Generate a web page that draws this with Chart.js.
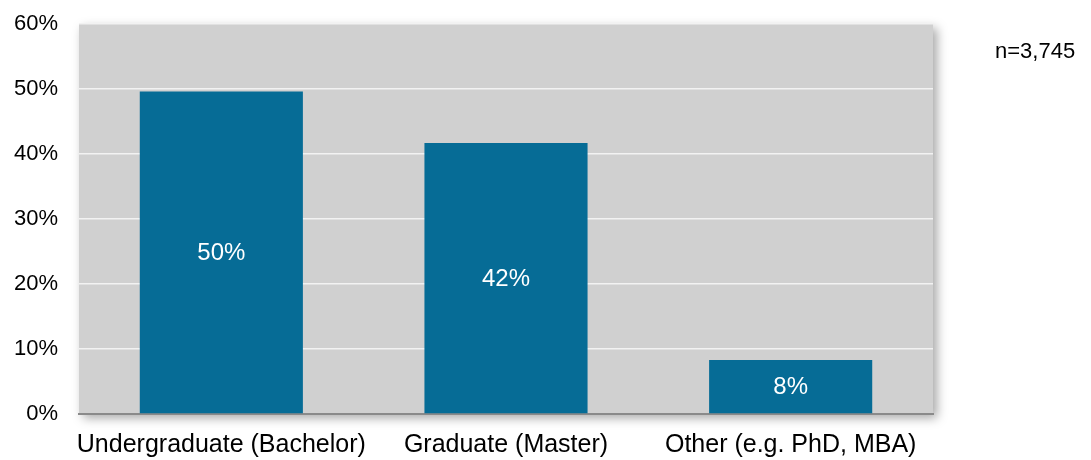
<!DOCTYPE html>
<html>
<head>
<meta charset="utf-8">
<script src="https://cdn.jsdelivr.net/npm/chart.js@4"></script>
<style>
  html, body { margin: 0; padding: 0; background: #ffffff; }
  #wrap { width: 1091px; height: 460px; position: relative; }
</style>
</head>
<body>
<div id="wrap"><canvas id="chart"></canvas></div>
<script>
// Degree level of respondents, share of total (n=3,745)
const categories = ["Undergraduate (Bachelor)", "Graduate (Master)", "Other (e.g. PhD, MBA)"];
const shares = [49.6, 41.7, 8.3];
const yTicks = [0, 10, 20, 30, 40, 50, 60];
const sampleNote = "n=3,745";

const FONT = "'Liberation Sans', Arial, sans-serif";

// grey panel with a soft drop shadow behind the plot
const panel = {
  id: "panel",
  beforeDraw(chart) {
    const { ctx, chartArea: a } = chart;
    ctx.save();
    ctx.shadowColor = "rgba(0,0,0,0.35)";
    ctx.shadowBlur = 10;
    ctx.shadowOffsetX = 4;
    ctx.shadowOffsetY = 4;
    ctx.fillStyle = "#d0d0d0";
    ctx.fillRect(a.left, a.top, a.right - a.left, a.bottom - a.top);
    ctx.restore();
  },
};

// percentage written inside each bar, plus the sample size note
const labels = {
  id: "labels",
  afterDatasetsDraw(chart) {
    const { ctx } = chart;
    const meta = chart.getDatasetMeta(0);
    ctx.save();
    ctx.font = "24px " + FONT;
    ctx.fillStyle = "#ffffff";
    ctx.textAlign = "center";
    ctx.textBaseline = "middle";
    meta.data.forEach((bar, i) => {
      const mid = (bar.y + bar.base) / 2;
      ctx.fillText(Math.round(shares[i]) + "%", bar.x, mid + 1);
    });
    ctx.font = "22px " + FONT;
    ctx.fillStyle = "#000000";
    ctx.textAlign = "left";
    ctx.textBaseline = "alphabetic";
    ctx.fillText(sampleNote, 995, 58);
    ctx.restore();
  },
};

new Chart(document.getElementById("chart"), {
  type: "bar",
  data: {
    labels: categories,
    datasets: [{
      data: shares,
      backgroundColor: "#066c96",
      borderWidth: 0,
      barPercentage: 1,
      categoryPercentage: 0.573,
    }],
  },
  options: {
    responsive: true,
    maintainAspectRatio: false,
    animation: false,
    layout: { padding: { top: 24, right: 158, left: 0, bottom: 0 } },
    plugins: { legend: { display: false }, tooltip: { enabled: false } },
    scales: {
      x: {
        grid: { display: false, drawTicks: false },
        border: { display: true, color: "#8a8a8a", width: 2 },
        ticks: {
          color: "#000000",
          font: { family: FONT, size: 25 },
          padding: 16,
          maxRotation: 0,
          autoSkip: false,
        },
        afterFit: (s) => { s.height = 46; },
      },
      y: {
        min: 0,
        max: 60,
        afterBuildTicks: (s) => { s.ticks = yTicks.map(v => ({ value: v })); },
        grid: {
          color: (c) => c.tick && c.tick.value === 0 ? "rgba(0,0,0,0)" : "#f2f2f2",
          lineWidth: 1.5,
          drawTicks: true,
          tickLength: 21,       // invisible ticks keep the labels clear of the panel
          tickColor: "rgba(0,0,0,0)",
        },
        border: { display: false },
        ticks: {
          color: "#000000",
          font: { family: FONT, size: 22 },
          padding: 0,
          callback: (v) => v + "%",
        },
        afterFit: (s) => { s.width = 79; },
      },
    },
  },
  plugins: [panel, labels],
});
</script>
</body>
</html>
